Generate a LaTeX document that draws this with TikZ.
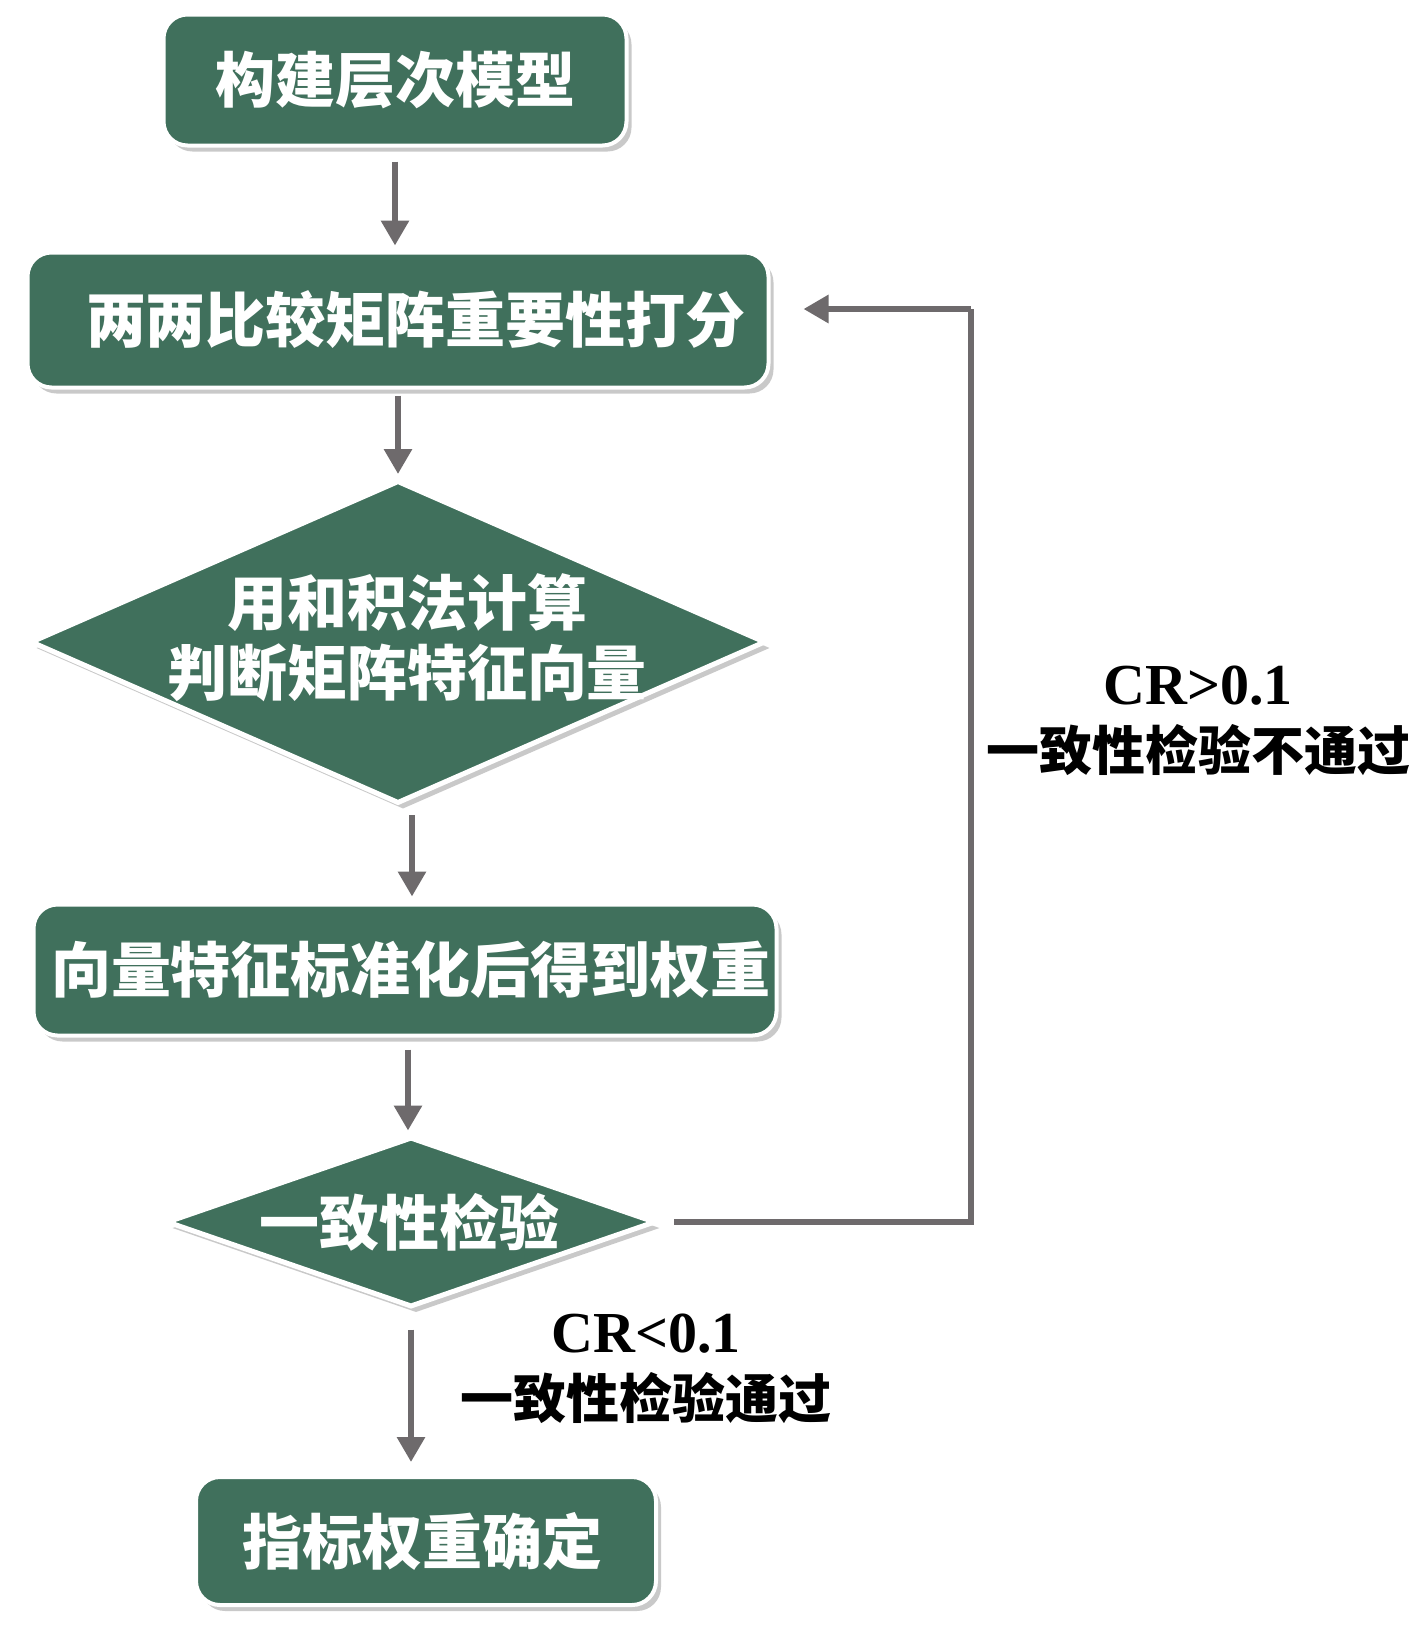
\documentclass[tikz,border=0pt]{standalone}
\usepackage{fontspec}
\setmainfont{Liberation Serif}
\newfontfamily\cjk{Noto Sans CJK SC}
\usetikzlibrary{arrows.meta,shapes.geometric,shadows}
\definecolor{boxgreen}{RGB}{64,112,92}
\definecolor{arrgray}{RGB}{110,106,108}
\tikzset{
  shade/.style={drop shadow={shadow xshift=5pt,shadow yshift=-6pt,opacity=0.35,fill=black!60}},
  greenbox/.style={rectangle,rounded corners=24pt,fill=boxgreen,draw=white,line width=4pt,
    shade,inner sep=0pt,text=white,font=\cjk\bfseries\fontsize{60}{70}\selectfont},
  greendiam/.style={diamond,fill=boxgreen,draw=white,line width=5pt,shade,inner sep=0pt},
  diamtext/.style={text=white,align=center,font=\cjk\bfseries\fontsize{60}{70}\selectfont},
  arr/.style={draw=arrgray,line width=6pt,-{Triangle[length=25pt,width=27pt]},arrgray},
  lbl/.style={text=black,align=center,font=\fontsize{58}{64}\selectfont\bfseries},
  lblcjk/.style={text=black,font=\cjk\bfseries\fontsize{53}{64}\selectfont}
}
\begin{document}
\begin{tikzpicture}[x=1pt,y=-1pt]
\useasboundingbox[fill=white] (0,0) rectangle (1417,1634);
% nodes
\node[greenbox,minimum width=463pt,minimum height=131pt] (b1) at (395,80) {构建层次模型};
\node[greenbox,minimum width=741pt,minimum height=135pt,text width=741pt,align=center] (b2) at (398,320) {\hspace*{36pt}两两比较矩阵重要性打分};
\node[greendiam,minimum width=735pt,minimum height=323pt] (d1) at (398,642) {};
\node[diamtext] (d1t) at (407,638) {用和积法计算\\判断矩阵特征向量};
\node[greenbox,minimum width=743pt,minimum height=131pt,text width=743pt,align=center] (b3) at (405,970) {\hspace*{12pt}向量特征标准化后得到权重};
\node[greendiam,minimum width=489pt,minimum height=170pt] (d2) at (411,1222) {};
\node[diamtext] (d2t) at (409,1222) {一致性检验};
\node[greenbox,minimum width=460pt,minimum height=128pt] (b4) at (426,1541) {\hspace*{-8pt}指标权重确定};
% labels
\node[lbl] (l1) at (1198,686) {CR>0.1};
\node[lblcjk] (l2) at (1198,750) {一致性检验不通过};
\node[lbl] (l3) at (646,1334) {CR<0.1};
\node[lblcjk] (l4) at (646,1398) {一致性检验通过};
% connectors
\draw[arr,shorten <=14pt,shorten >=5pt] (b1.south) -- (b1.south |- b2.north);
\draw[arr,shorten <=6pt,shorten >=4pt] (b2.south) -- (b2.south |- d1.north);
\draw[arr,shorten <=9pt,shorten >=6pt] (d1.south) ++(14,0) coordinate (a3) -- (a3 |- b3.north);
\draw[arr,shorten <=12pt,shorten >=4pt] (b3.south) ++(3,0) coordinate (a4) -- (a4 |- d2.north);
\draw[arr,shorten <=20pt,shorten >=13pt] (d2.south) -- (d2.south |- b4.north);
\coordinate (fb) at (971,309);
\draw[arr,-,shorten <=16pt] (d2.east) -| (fb);
\draw[arr,shorten >=33pt] (fb) -- (b2.east |- fb);
\end{tikzpicture}
\end{document}
